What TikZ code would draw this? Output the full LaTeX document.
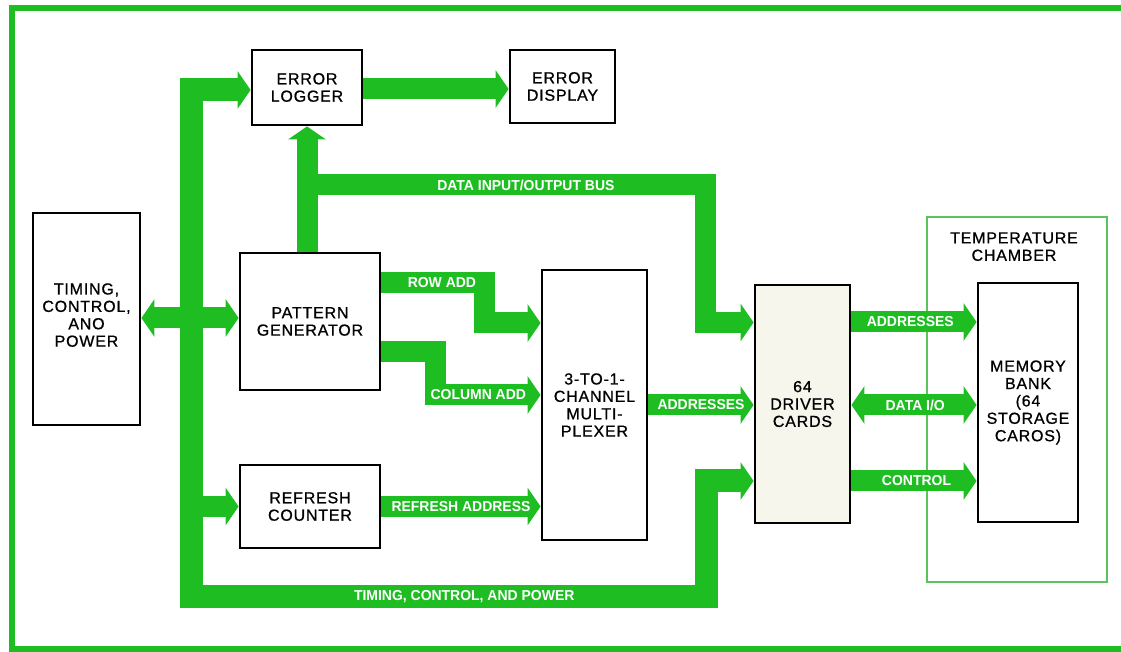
\documentclass[tikz,border=0pt]{standalone}
\usepackage{fontspec}
\setsansfont{Liberation Sans}
\newfontfamily\boxfont[LetterSpace=5,FakeBold=0.8]{Liberation Sans}
\newfontfamily\busfont[FakeStretch=0.97]{Liberation Sans}
\usetikzlibrary{arrows.meta,calc,positioning}
\definecolor{BusGreen}{RGB}{30,190,35}
\definecolor{ChamberGreen}{RGB}{90,195,90}
\definecolor{CardCream}{RGB}{246,246,236}

\begin{document}
\begin{tikzpicture}[x=0.5pt,y=-0.5pt,>={Triangle[length=6.5pt,width=18.5pt]},
    blk/.style={draw,fill=white,line width=1.4pt,align=center,inner sep=0pt,
      font=\boxfont\fontsize{8}{8.7}\selectfont},
    bus/.style={draw=BusGreen,line width=10.5pt,line join=miter},
    lbl/.style={text=white,inner sep=0pt,font=\busfont\bfseries\fontsize{7.2}{8}\selectfont}]
      \useasboundingbox (0,0) rectangle (1121,652);
      \draw[BusGreen,line width=3pt] (1121,8)--(12,8)--(12,649)--(1121,649);
      \node[draw=ChamberGreen,line width=1pt,minimum width=90pt,minimum height=182.5pt] (chamber) at (1017,399.5) {};
      \node[align=center,inner sep=0pt,font=\boxfont\fontsize{8}{8.7}\selectfont,below=8pt of chamber.north,xshift=-1.5pt] (chamberlbl) {TEMPERATURE\\CHAMBER};
      \node[blk,minimum width=55pt,minimum height=37.5pt] (errlog) at (307,87.5) {ERROR\\LOGGER};
      \node[blk,minimum width=52.5pt,minimum height=36.5pt] (errdisp) at (562.5,86.5) {ERROR\\DISPLAY};
      \node[blk,minimum width=53.5pt,minimum height=106pt,text depth=4pt] (timing) at (86.5,319) {TIMING,\\CONTROL,\\ANO\\POWER};
      \node[blk,minimum width=70pt,minimum height=68.5pt] (patgen) at (310,321.5) {PATTERN\\GENERATOR};
      \node[blk,minimum width=70pt,minimum height=41.5pt] (refcnt) at (310,506.5) {REFRESH\\COUNTER};
      \node[blk,minimum width=52.5pt,minimum height=135pt] (mux) at (594.5,405) {3-TO-1-\\CHANNEL\\MULTI-\\PLEXER};
      \node[blk,fill=CardCream,minimum width=47.5pt,minimum height=119pt] (driver) at (802.5,404) {64\\DRIVER\\CARDS};
      \node[blk,minimum width=50pt,minimum height=119.5pt] (membank) at (1028,402.5) {MEMORY\\BANK\\(64\\STORAGE\\CAROS)};
      \coordinate (tl) at (191,90);
      \coordinate (bl) at (191,597);
      \coordinate (br) at (706.5,597);
      \coordinate (tr) at (706.5,481);
      \draw[bus,line width=11.5pt,<->] (tl -| errlog.west)--(tl)--(bl)--(br)
        node[lbl,pos=.53]{TIMING, CONTROL, AND POWER}--(tr)--(tr -| driver.west);
      \draw[bus,<->] (timing.east |- 0,318)--(patgen.west |- 0,318);
      \draw[bus,->] (bl |- refcnt.west)--(refcnt.west);
      \draw[bus,->] (errlog.east |- 0,89)--(errdisp.west |- 0,89);
      \draw[bus,->] (errlog.south |- patgen.north)--(errlog.south);
      \coordinate (dl) at (errlog.south |- 0,185);
      \coordinate (dr) at (705,185);
      \coordinate (dd) at (705,322.5);
      \draw[bus,->] (dl)--(dr) node[lbl,pos=.55]{DATA INPUT/OUTPUT BUS}--(dd)--(dd -| driver.west);
      \coordinate (ra1) at (484,283);
      \coordinate (ra2) at (484,323);
      \draw[bus,->] (patgen.east |- ra1)--(ra1) node[lbl,pos=.59]{ROW ADD}--(ra2)--(ra2 -| mux.west);
      \coordinate (ca1) at (435,352);
      \coordinate (ca2) at (435,395);
      \draw[bus,->] (patgen.east |- ca1)--(ca1)--(ca2)--(ca2 -| mux.west) node[lbl,pos=.41]{COLUMN ADD};
      \draw[bus,->] (refcnt.east)--(mux.west |- refcnt.east) node[lbl,pos=.5]{REFRESH ADDRESS};
      \draw[bus,->] (mux.east)--(mux.east -| driver.west) node[lbl,pos=.5]{ADDRESSES};
      \draw[bus,->] (driver.east |- 0,322)--(membank.west |- 0,322) node[lbl,pos=.47]{ADDRESSES};
      \draw[bus,<->] (driver.east |- 0,405)--(membank.west |- 0,405) node[lbl,pos=.51]{DATA I/O};
      \draw[bus,->] (driver.east |- 0,481)--(membank.west |- 0,481) node[lbl,pos=.52]{CONTROL};
    \end{tikzpicture}
\end{document}
